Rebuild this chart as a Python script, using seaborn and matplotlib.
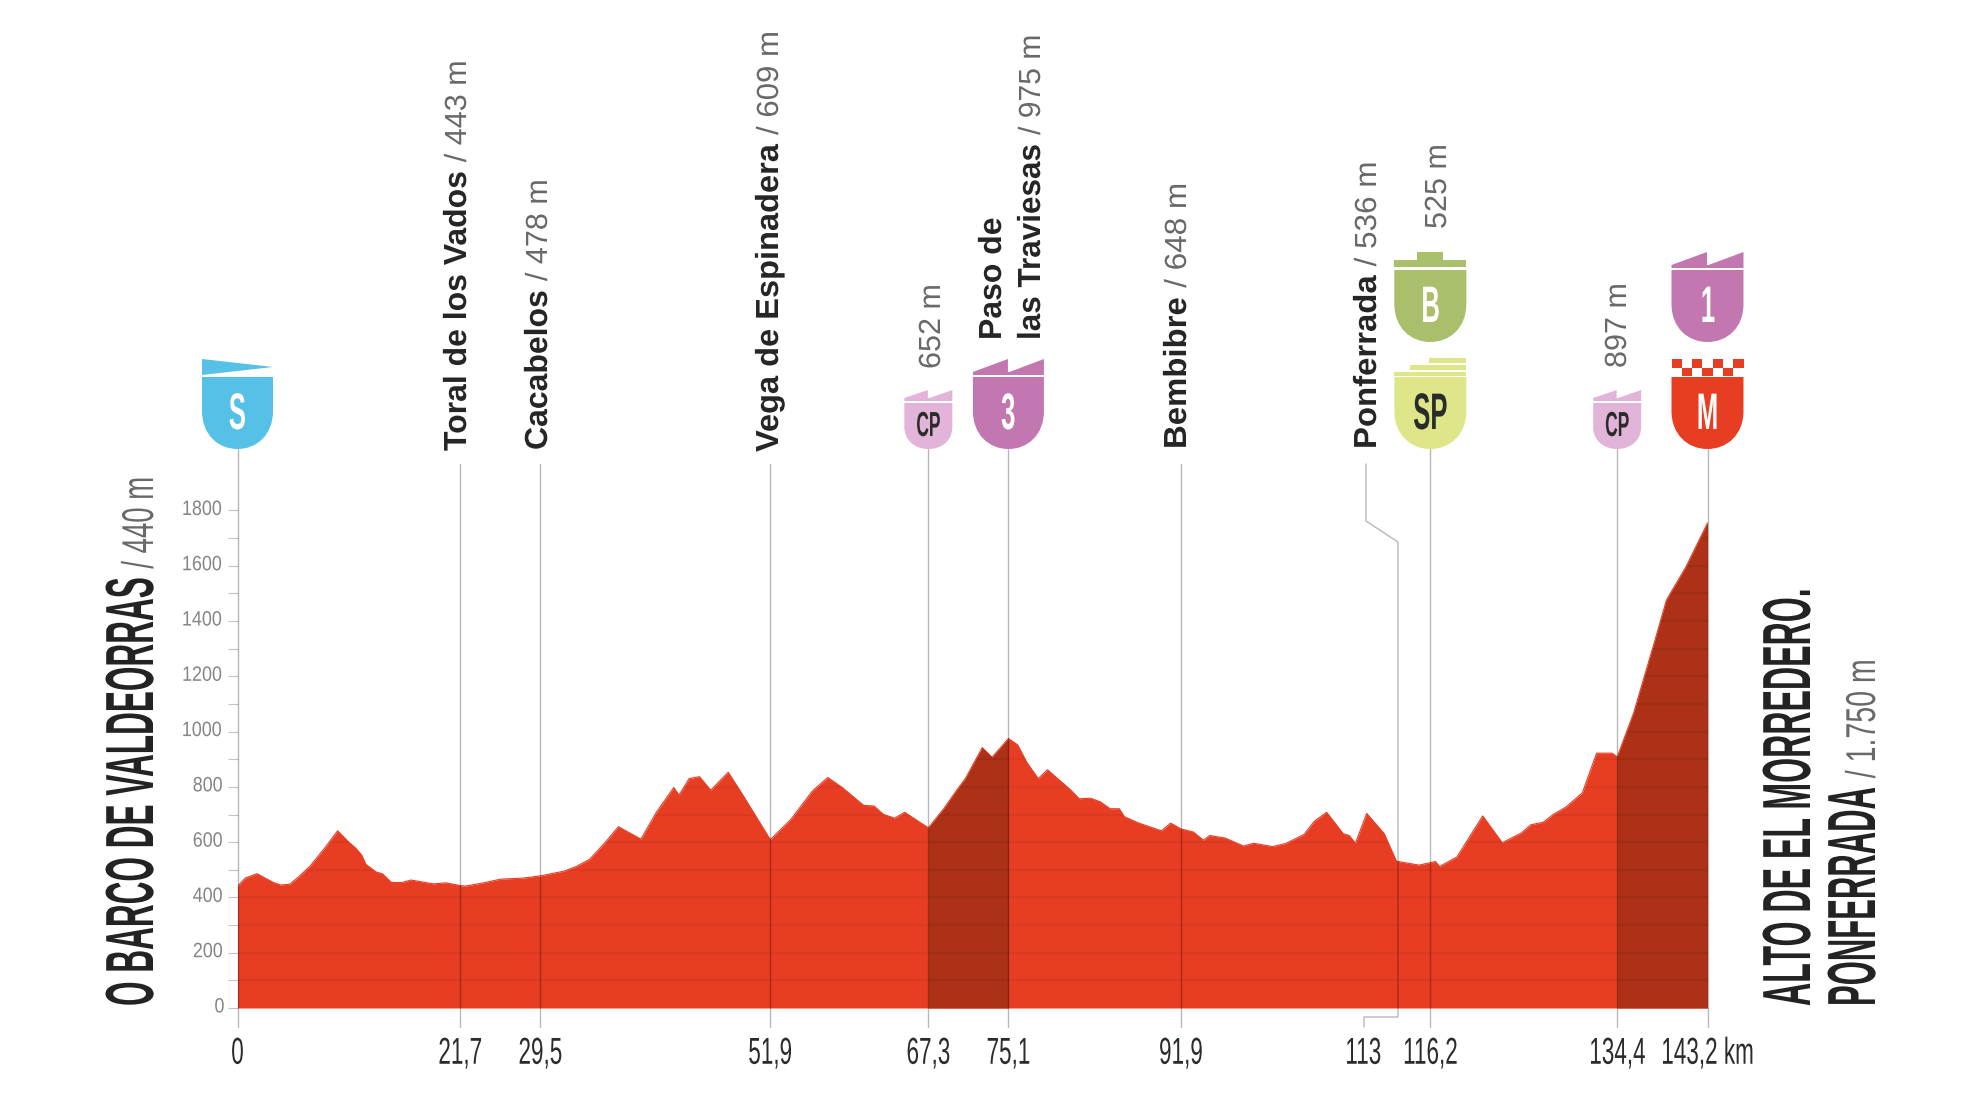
import numpy as np
import matplotlib
matplotlib.use("Agg")
import matplotlib.pyplot as plt
import seaborn as sns
from matplotlib.patches import PathPatch, Polygon, Rectangle
from matplotlib.path import Path
from matplotlib.patheffects import AbstractPathEffect
from matplotlib.transforms import Affine2D, Bbox, ScaledTranslation

# === DATA ===
KM = [0, 0.75, 1.9, 3.5, 4.2, 5.1, 6.0, 7.1, 8.5, 9.75, 10.9, 11.5, 12.1, 12.5, 13.5, 14.1, 15.0, 16.0, 16.9,
      19.1, 20.3, 21.7, 22.2, 24.0, 25.6, 27.8, 29.5, 31.8, 33.0, 34.3, 35.8, 37.1, 39.3, 40.8, 42.5, 43.0, 44.0,
      45.0, 46.1, 47.8, 49.2, 51.9, 53.9, 56.0, 57.5, 58.9, 61.0, 62.0, 62.9, 64.0, 65.0, 66.3, 67.3, 68.8, 70.0,
      70.9, 72.55, 73.5, 75.1, 76.0, 76.9, 78.0, 78.9, 80.3, 81.1, 82.0, 83.1, 84.05, 85.0, 85.9, 86.4, 87.8,
      90.0, 90.9, 91.9, 93.1, 94.1, 94.7, 96.2, 98.0, 99.0, 100.8, 102.1, 103.9, 104.9, 106.1, 107.7, 108.3,
      108.9, 110.0, 111.7, 112.9, 115.1, 116.7, 117.1, 118.8, 121.3, 123.2, 125.05, 126.0, 127.2, 128.2, 129.4,
      131.0, 132.4, 133.9, 134.4, 136.0, 138.0, 139.2, 141.1, 143.2]
ALT = [440, 470, 486, 454, 445, 448, 476, 515, 579, 641, 598, 579, 553, 520, 492, 486, 454, 454, 463,
       449, 453, 443, 441, 453, 466, 470, 478, 495, 512, 538, 598, 656, 611, 708, 798, 770, 830,
       837, 788, 853, 772, 609, 682, 785, 834, 798, 733, 731, 701, 687, 708, 676, 652, 721, 785,
       830, 942, 907, 975, 952, 888, 830, 862, 817, 791, 757, 759, 746, 721, 721, 692, 669,
       641, 669, 648, 637, 607, 624, 615, 586, 596, 584, 595, 628, 676, 708, 631, 624,
       596, 704, 631, 531, 517, 530, 512, 547, 695, 598, 633, 663, 672, 701, 727,
       778, 922, 922, 908, 1067, 1320, 1476, 1596, 1755]

CLIMBS = [(67.3, 75.1), (134.4, 143.2)]
LINE_KM = [0, 21.7, 29.5, 51.9, 67.3, 75.1, 91.9, 116.2, 134.4, 143.2]
TICK_KM = [0, 21.7, 29.5, 51.9, 67.3, 75.1, 91.9, 109.65, 116.2, 134.4, 143.2]
TICK_LABELS = ["0", "21,7", "29,5", "51,9", "67,3", "75,1", "91,9", "113", "116,2", "134,4", "143,2 km"]
ALT_TICKS = list(range(0, 2000, 200))

PLACE_NAMES = ["Toral de los Vados", "Cacabelos", "Vega de Espinadera", "", "Paso de", "las Traviesas",
               "Bembibre", "Ponferrada", "", ""]
PLACE_ALTS = ["/ 443 m", "/ 478 m", "/ 609 m", "652 m", "", "/ 975 m", "/ 648 m", "/ 536 m", "525 m", "897 m"]

# === COLOCACION (pixeles de la figura) ===
LINE_TOP = [449, 464, 464, 464, 449, 449, 464, 449, 449, 449]
PLACE_X = [466, 547, 778, 940, 1001, 1040, 1186, 1376, 1446, 1626]
PLACE_Y = [451, 450, 452, 369, 340, 340, 449, 449, 229, 368]
PLACE_SX = [1.0, 1.0, 1.02, 1.0, 1.0, 0.985, 1.03, 1.03, 1.0, 1.0]
X0, X1, Y0 = 237.5, 1707.5, 1008
PX_PER_M = 0.2764

RED = "#E73E23"
DARK = "#AC3116"
GREY = "#68696b"
INK = "#2b2b2b"


class Squeeze(AbstractPathEffect):
    """Estrecha el texto a lo largo de su linea base (fuente condensada)."""

    def __init__(self, sx, center=False):
        super().__init__()
        self.sx = sx
        self.center = center

    def draw_path(self, renderer, gc, tpath, affine, rgbFace=None):
        c = 0
        if self.center:
            ext = tpath.get_extents()
            c = (ext.x0 + ext.x1) / 2
        t = Affine2D().translate(-c, 0).scale(self.sx, 1).translate(c, 0) + affine
        renderer.draw_path(gc, tpath, t, rgbFace)


def squeeze(text, sx, center=False):
    # el recuadro del texto tiene que seguir a lo que se dibuja
    text.set_path_effects([Squeeze(sx, center)])
    natural = text.get_window_extent

    def extent(renderer=None, dpi=None):
        b = natural(renderer, dpi)
        if text.get_rotation() == 90:
            if center:
                mid = (b.y0 + b.y1) / 2
                return Bbox([[b.x0, mid - b.height * sx / 2], [b.x1, mid + b.height * sx / 2]])
            return Bbox([[b.x0, b.y0], [b.x1, b.y0 + b.height * sx]])
        mid = (b.x0 + b.x1) / 2
        return Bbox([[mid - b.width * sx / 2, b.y0], [mid + b.width * sx / 2, b.y1]])

    text.get_window_extent = extent


sns.set_theme(style="white")
plt.rcParams["font.family"] = ["Liberation Sans", "DejaVu Sans"]

fig = plt.figure(figsize=(19.8, 11), dpi=100, facecolor="white")
ax = fig.add_axes([X0 / 1980, (1100 - Y0) / 1100, (X1 - X0) / 1980, Y0 / 1100])
ax.set_xlim(0, 143.2)
ax.set_ylim(0, Y0 / PX_PER_M)
sns.despine(ax=ax, left=True, bottom=True)

km = np.array(KM)
alt = np.array(ALT)
sns.lineplot(x=km, y=alt, ax=ax, color=RED, lw=0.8, estimator=None, sort=False, zorder=1)
body = ax.fill_between(km, 0, alt, color=RED, lw=0, zorder=2)
for a, b in CLIMBS:
    ax.fill_between(km, 0, alt, where=(km >= a) & (km <= b), color=DARK, lw=0, zorder=3)

# rayas finas cada 100 m dentro del perfil
grid = ax.hlines(np.arange(100, 1800, 100), 0, 143.2, color="black", alpha=0.06, lw=1.5, zorder=4)
grid.set_clip_path(body.get_paths()[0], ax.transData)

bottom = -19 / PX_PER_M
for k, top in zip(LINE_KM, LINE_TOP):
    ax.plot([k, k], [bottom, (Y0 - top) / PX_PER_M], color="black", alpha=0.28, lw=1, zorder=5, clip_on=False)

ax.set_xticks(TICK_KM, TICK_LABELS)
ax.tick_params(axis="x", bottom=True, length=0, pad=20, labelsize=27, labelcolor=INK)
for lab in ax.get_xticklabels():
    squeeze(lab, 0.6, center=True)

ax.set_yticks(ALT_TICKS)
ax.set_yticks(np.arange(100, 1900, 200), minor=True)
ax.tick_params(axis="y", which="both", left=True, length=7.2, width=0.8, color="#c4c4c4", pad=1.5,
               labelsize=15, labelcolor="#858585")
lift = ScaledTranslation(0, 3 / 100, fig.dpi_scale_trans)
for lab in ax.get_yticklabels():
    lab.set_transform(lab.get_transform() + lift)
    squeeze(lab, 0.86, center=True)

# capa en pixeles para escudos y rotulos
ov = fig.add_axes([0, 0, 1, 1], zorder=10)
ov.set_xlim(0, 1980)
ov.set_ylim(1100, 0)
ov.axis("off")
ov.patch.set_alpha(0)
renderer = fig.canvas.get_renderer()


def px(k):
    return X0 + k * (X1 - X0) / 143.2


def shield(k, half, y_top, y_arc, y_end, color):
    cx = px(k)
    l, r = cx - half, cx + half
    verts = [(l, y_top), (r, y_top), (r, y_arc),
             (r, y_arc + (y_end - y_arc) * 0.62), (cx + half * 0.55, y_end), (cx, y_end),
             (cx - half * 0.55, y_end), (l, y_arc + (y_end - y_arc) * 0.62), (l, y_arc), (l, y_top)]
    codes = [Path.MOVETO, Path.LINETO, Path.LINETO, Path.CURVE4, Path.CURVE4, Path.CURVE4,
             Path.CURVE4, Path.CURVE4, Path.CURVE4, Path.CLOSEPOLY]
    ov.add_patch(PathPatch(Path(verts, codes), fc=color, ec="none"))
    return l, r, cx


def teeth(l, r, y_top, y_base, color):
    mid = (l + r) / 2
    pts = [(l, y_base), (l, y_base - 3), (mid - 0.5, y_top), (mid - 0.5, y_base - 3), (mid + 1, y_base - 3),
           (r, y_top), (r, y_base)]
    ov.add_patch(Polygon(pts, fc=color, ec="none"))


def letter(k, s, y, size, color, sx=0.5):
    t = ov.text(px(k), y, s, ha="center", va="baseline", fontsize=size, fontweight="bold", color=color)
    squeeze(t, sx, center=True)


# salida
l, r, _ = shield(0, 35.5, 377, 411, 449, "#55C1E6")
ov.add_patch(Polygon([(l, 359), (r, 367), (l, 375)], fc="#55C1E6", ec="none"))
letter(0, "S", 429, 37, "white")

# metas volantes y puertos
for k in (67.3, 134.4):
    l, r, _ = shield(k, 24, 403, 427, 449, "#E2B4D9")
    teeth(l, r, 390, 401, "#E2B4D9")
    letter(k, "CP", 436, 25, INK)

l, r, _ = shield(75.1, 35.5, 377, 411, 449, "#C277B0")
teeth(l, r, 359, 375, "#C277B0")
letter(75.1, "3", 429, 37, "white")

l, r, _ = shield(143.2, 36, 270, 304, 342, "#C277B0")
teeth(l, r, 252, 268, "#C277B0")
letter(143.2, "1", 322, 37, "white")

l, r, cx = shield(116.2, 36, 270, 304, 342, "#A9BF6B")
ov.add_patch(Rectangle((l, 260), r - l, 7, fc="#A9BF6B", ec="none"))
ov.add_patch(Rectangle((cx - 13, 252), 26, 9, fc="#A9BF6B", ec="none"))
letter(116.2, "B", 322, 37, "white")

l, r, cx = shield(116.2, 36, 377, 411, 449, "#DFE68A")
for y, h, dx in [(358, 5, 35), (365, 5, 16), (372, 4, 0)]:
    ov.add_patch(Rectangle((l + dx, y), r - l - dx, h, fc="#DFE68A", ec="none"))
letter(116.2, "SP", 429, 37, INK)

l, r, cx = shield(143.2, 36, 377, 411, 449, RED)
cell = (r - l) / 7
for row in range(2):
    for col in range(7):
        if (row + col) % 2 == 0:
            ov.add_patch(Rectangle((l + col * cell, 359 + row * 8.5), cell, 8.5, fc=RED, ec="none"))
letter(143.2, "M", 429, 37, "white", sx=0.5)

# linea de Ponferrada hasta el km 113
ov.plot([1366, 1366, 1398, 1398, 1364, 1364], [464, 521, 542, 1017, 1017, 1027], color="black", alpha=0.28, lw=1)


def vertical(x, y, s, size, color, weight, sx=1.0):
    t = ov.text(x, y, s, rotation=90, rotation_mode="anchor", ha="left", va="baseline", fontsize=size,
                fontweight=weight, color=color)
    squeeze(t, sx)
    return t.get_window_extent(renderer).height


for name, rest, x, y, sx in zip(PLACE_NAMES, PLACE_ALTS, PLACE_X, PLACE_Y, PLACE_SX):
    used = 0
    if name:
        used = vertical(x, y, name, 23, "#262626", "bold", sx=sx) + 9
    if rest:
        vertical(x, y - used, rest, 22, GREY, "normal", sx=sx)

# titulos de salida y llegada
n = vertical(153, 1006, "O BARCO DE VALDEORRAS", 49, "#232323", "bold", sx=0.4635)
vertical(153, 1006 - n - 9, "/ 440 m", 32, GREY, "normal", sx=0.62)
vertical(1810, 1006, "ALTO DE EL MORREDERO.", 49, "#232323", "bold", sx=0.472)
n = vertical(1875, 1006, "PONFERRADA", 49, "#232323", "bold", sx=0.456)
vertical(1875, 1006 - n - 9, "/ 1.750 m", 30, GREY, "normal", sx=0.685)

fig.savefig("out.png", dpi=100, facecolor="white")
